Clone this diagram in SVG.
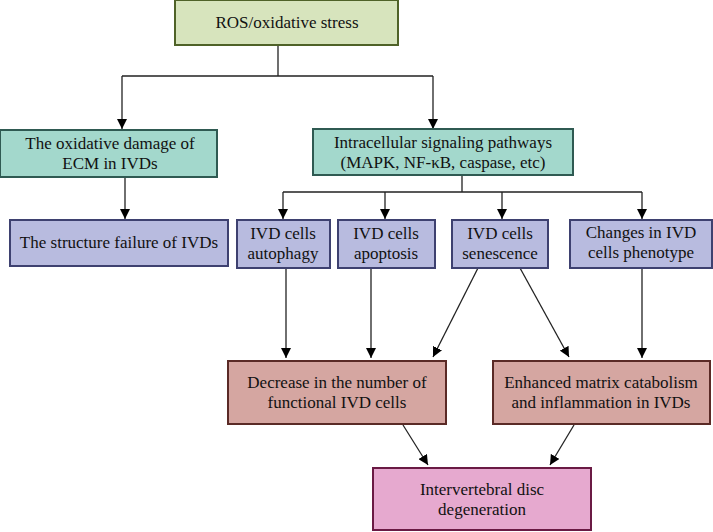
<svg xmlns="http://www.w3.org/2000/svg" width="713" height="532" viewBox="0 0 713 532">
<defs>
<marker id="ah" viewBox="0 0 10 10" refX="10" refY="5" markerWidth="10" markerHeight="10" markerUnits="userSpaceOnUse" orient="auto">
<path d="M0,0 L10,5 L0,10 z" fill="#000"/>
</marker>
<style>
text{font-family:"Liberation Serif","DejaVu Serif",serif;font-size:17px;fill:#111;text-anchor:middle}
.g{fill:#d7e4bd;stroke:#4f6228;stroke-width:2}
.t{fill:#a3d8cc;stroke:#2f5a52;stroke-width:2}
.l{fill:#b8bbdf;stroke:#3e4170;stroke-width:2}
.r{fill:#d5a6a1;stroke:#5a2a26;stroke-width:2}
.p{fill:#e6a9cf;stroke:#6a1a44;stroke-width:2}
.c{fill:none;stroke:#222;stroke-width:1.3}
.a{fill:none;stroke:#222;stroke-width:1.3;marker-end:url(#ah)}
</style>
</defs>
<g id="connectors">
<path class="c" d="M278,45 V76 M122,76 H433"/>
<path class="a" d="M122,76 V129"/>
<path class="a" d="M433,76 V129"/>
<path class="a" d="M125,177 V219"/>
<path class="c" d="M462,175 V192 M283,192 H642"/>
<path class="a" d="M283,192 V219"/>
<path class="a" d="M385,192 V219"/>
<path class="a" d="M502,192 V219"/>
<path class="a" d="M642,192 V219"/>
<path class="a" d="M286,268 V358"/>
<path class="a" d="M371,268 V358"/>
<path class="a" d="M478,268 L433,357"/>
<path class="a" d="M520,268 L569,357"/>
<path class="a" d="M642,268 V358"/>
<path class="a" d="M403,425 L428,465"/>
<path class="a" d="M574,425 L550,465"/>
</g>
<g id="ros"><rect class="g" x="175" y="0" width="223" height="45"/><text x="287" y="28">ROS/oxidative stress</text></g>
<g id="ecm"><rect class="t" x="0" y="130" width="217" height="47"/><text x="110" y="149">The oxidative damage of</text><text x="110" y="169">ECM in IVDs</text></g>
<g id="intracellular"><rect class="t" x="313" y="129" width="260" height="46"/><text x="443" y="148">Intracellular signaling pathways</text><text x="443" y="168">(MAPK, NF-κB, caspase, etc)</text></g>
<g id="structure"><rect class="l" x="10" y="220" width="218" height="46"/><text x="119" y="248">The structure failure of IVDs</text></g>
<g id="autophagy"><rect class="l" x="237" y="220" width="93" height="48"/><text x="283" y="239">IVD cells</text><text x="283" y="259">autophagy</text></g>
<g id="apoptosis"><rect class="l" x="338" y="220" width="97" height="48"/><text x="386" y="239">IVD cells</text><text x="386" y="259">apoptosis</text></g>
<g id="senescence"><rect class="l" x="452" y="220" width="96" height="48"/><text x="500" y="239">IVD cells</text><text x="500" y="259">senescence</text></g>
<g id="phenotype"><rect class="l" x="570" y="220" width="142" height="48"/><text x="641" y="238">Changes in IVD</text><text x="641" y="258">cells phenotype</text></g>
<g id="decrease"><rect class="r" x="228" y="361" width="218" height="63"/><text x="337" y="388">Decrease in the number of</text><text x="337" y="408">functional IVD cells</text></g>
<g id="enhanced"><rect class="r" x="493" y="361" width="217" height="63"/><text x="601" y="388">Enhanced matrix catabolism</text><text x="601" y="408">and inflammation in IVDs</text></g>
<g id="idd"><rect class="p" x="373" y="468" width="218" height="62"/><text x="482" y="495">Intervertebral disc</text><text x="482" y="515">degeneration</text></g>
</svg>
